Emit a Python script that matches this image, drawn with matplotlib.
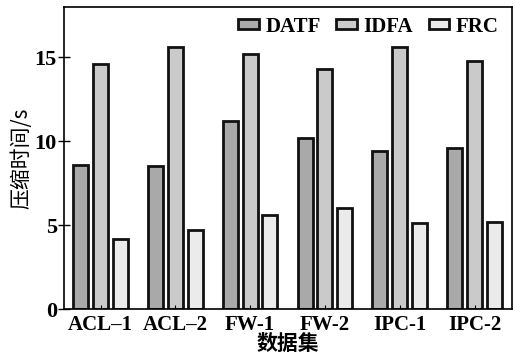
import matplotlib
matplotlib.use("Agg")
import matplotlib.pyplot as plt
import numpy as np

# data
datasets = ["ACL–1", "ACL–2", "FW-1", "FW-2", "IPC-1", "IPC-2"]
datf = [8.6, 8.5, 11.2, 10.2, 9.4, 9.6]
idfa = [14.6, 15.6, 15.2, 14.3, 15.6, 14.8]
frc = [4.2, 4.7, 5.6, 6.0, 5.1, 5.2]

plt.rcParams['font.family'] = ['Liberation Serif', 'Noto Sans CJK SC']

fig = plt.figure(figsize=(5.15, 3.61), dpi=100)
ax = fig.add_axes([0.124, 0.144, 0.870, 0.837])

x = np.arange(len(datasets))
w = 0.2
off = 0.265
ax.bar(x - off, datf, w, color='#a9a9a9', edgecolor='#111111', linewidth=2, label='DATF')
ax.bar(x, idfa, w, color='#cacaca', edgecolor='#111111', linewidth=2, label='IDFA')
ax.bar(x + off, frc, w, color='#ebebeb', edgecolor='#111111', linewidth=2, label='FRC')

ax.set_xlim(-0.49, 5.5)
ax.set_ylim(0, 18)
ax.set_yticks([0, 5, 10, 15])
ax.set_xticks(x)
ax.set_xticklabels(datasets, fontweight='bold')
ax.tick_params(axis='y', direction='inout', length=8, width=1, labelsize=16, pad=1)
ax.tick_params(axis='x', direction='in', length=3, labelsize=15, pad=4)
for lab in ax.get_yticklabels():
    lab.set_fontweight('bold')
for s in ax.spines.values():
    s.set_linewidth(1.2)

ax.set_ylabel("压缩时间/s", fontsize=15, family=['Noto Sans CJK SC'], labelpad=2)
ax.set_xlabel("数据集", fontsize=15, fontweight='bold', labelpad=0)

ax.legend(loc='upper right', ncol=3, frameon=False,
          prop={'size': 15, 'weight': 'bold'},
          handlelength=1.0, handleheight=0.35, handletextpad=0.3,
          columnspacing=0.75, bbox_to_anchor=(1.012, 1.03))

fig.savefig("out.png", dpi=100)
